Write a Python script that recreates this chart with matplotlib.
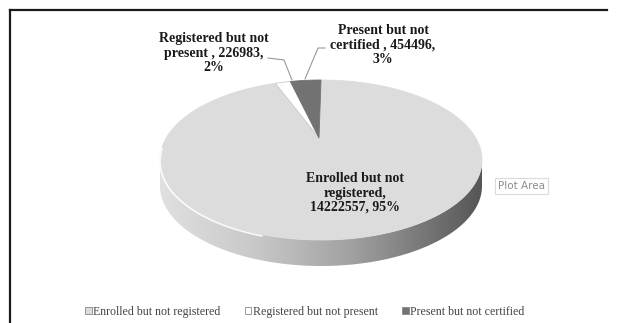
import numpy as np
import matplotlib

matplotlib.use("Agg")

import matplotlib.pyplot as plt
from matplotlib.colors import LinearSegmentedColormap
from matplotlib.lines import Line2D
from matplotlib.patches import Polygon

categories = ["Enrolled but not registered", "Registered but not present", "Present but not certified"]
counts = [14222557, 226983, 454496]
slice_colors = ["#dcdcdc", "#ffffff", "#727272"]

total = sum(counts)
shares = [c / total for c in counts]
pcts = [f"{round(s * 100)}%" for s in shares]
labels = [
    f"Enrolled but not\nregistered,\n{counts[0]}, {pcts[0]}",
    f"Registered but not\npresent , {counts[1]},\n{pcts[1]}",
    f"Present but not\ncertified , {counts[2]},\n{pcts[2]}",
]

# pie geometry in pixel space (y down)
cx, cy, a, b = 321, 160, 161, 80
apex = (319, 138)
depth = 26

fig = plt.figure(figsize=(6.22, 3.23), dpi=100)
ax = fig.add_axes([0, 0, 1, 1])
ax.set_xlim(0, 622)
ax.set_ylim(323, 0)
ax.axis("off")


def rim(phi, drop=0.0):
    return cx + a * np.cos(phi), cy + drop + b * np.sin(phi)


# side of the disc (front half only)
phi = np.linspace(0, np.pi, 200)
tx, ty = rim(phi)
bx, by = rim(phi[::-1], depth)
side = Polygon(np.column_stack([np.r_[tx, bx], np.r_[ty, by]]), closed=True,
               facecolor="none", edgecolor="none")
ax.add_patch(side)
side_cmap = LinearSegmentedColormap.from_list(
    "side", [(0, "#e0e0e0"), (0.3, "#c8c8c8"), (0.6, "#a0a0a0"), (1, "#565656")])
grad = ax.imshow(np.linspace(0, 1, 256)[None, :], extent=(cx - a, cx + a, cy + b + depth, cy),
                 aspect="auto", cmap=side_cmap, zorder=1, interpolation="bilinear")
grad.set_clip_path(side)

# top face wedges, clockwise from 12 o'clock
handles = []
start = -np.pi / 2
for name, share, color in zip(categories, shares, slice_colors):
    end = start + share * 2 * np.pi
    arc = np.linspace(start, end, max(int(share * 400), 8))
    wx, wy = rim(arc)
    edge = "#c8c8c8" if color == "#ffffff" else color
    poly = ax.fill(np.r_[apex[0], wx], np.r_[apex[1], wy], facecolor=color,
                   edgecolor=edge, linewidth=0.6, zorder=2, label=name)[0]
    handles.append(poly)
    start = end

# thin highlight along the left rim
hphi = np.linspace(np.pi * 0.62, np.pi * 1.05, 80)
hx, hy = rim(hphi, 1.5)
ax.plot(hx, hy, color="white", lw=1.2, alpha=0.9, zorder=3)

lab_font = dict(family="Liberation Serif", weight="bold", fontsize=10, color="#1a1a1a",
                ha="center", va="center", linespacing=1.15)
ax.text(355, 193, labels[0], **lab_font, zorder=4)
ax.text(214, 53, labels[1], **lab_font, zorder=4)
ax.text(383, 45, labels[2], **lab_font, zorder=4)

# leader lines
ax.plot([268, 284, 292], [58, 60, 80], color="#9a9a9a", lw=0.8, zorder=4)
ax.plot([325, 318, 305], [48, 48, 79], color="#9a9a9a", lw=0.8, zorder=4)

ax.text(498, 186, "Plot Area", family="DejaVu Sans", fontsize=7.5, color="#8c8c8c",
        ha="left", va="center",
        bbox=dict(boxstyle="square,pad=0.25", facecolor="white", edgecolor="#dadada", lw=0.8))

leg = ax.legend(handles=handles, loc="center", bbox_to_anchor=(305 / 622, 1 - 312 / 323),
                ncol=3, frameon=False, handlelength=0.55, handleheight=0.55,
                handletextpad=0.15, columnspacing=2.0, borderpad=0,
                prop={"family": "Liberation Serif", "size": 8.6})
for txt in leg.get_texts():
    txt.set_color("#444444")
for h in leg.legend_handles:
    h.set_edgecolor("#888888")
    h.set_linewidth(0.6)

# chart frame (top and left edge)
fig.add_artist(Line2D([10 / 622, 607 / 622], [1 - 10 / 323, 1 - 10 / 323],
                      color="#1a1a1a", lw=1.6))
fig.add_artist(Line2D([10 / 622, 10 / 622], [0, 1 - 10 / 323], color="#1a1a1a", lw=1.6))

fig.savefig("out.png", dpi=100)
